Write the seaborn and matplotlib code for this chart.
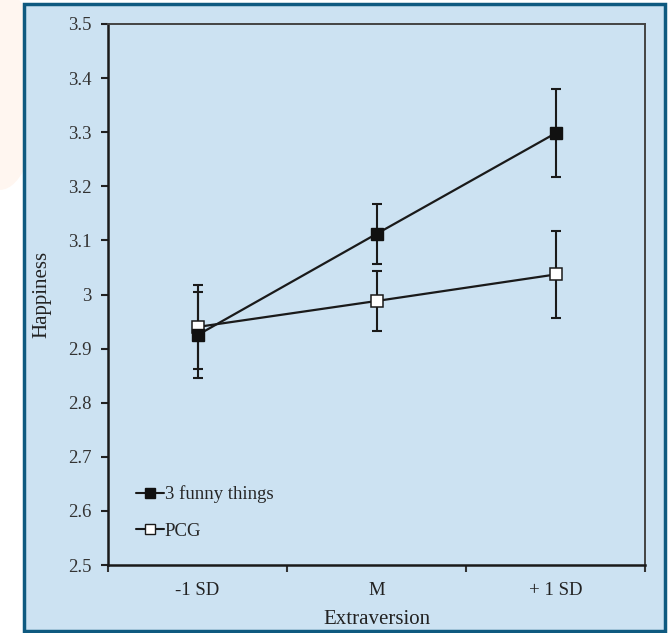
import matplotlib
matplotlib.use("Agg")
import matplotlib.pyplot as plt
import seaborn as sns
import pandas as pd
from matplotlib.patches import Rectangle, Ellipse
from matplotlib.lines import Line2D

categories = ["-1 SD", "M", "+ 1 SD"]
funny_mean = [2.925, 3.112, 3.298]
funny_err = [0.080, 0.055, 0.081]
pcg_mean = [2.940, 2.988, 3.037]
pcg_err = [0.078, 0.056, 0.080]
y_ticks = [2.5, 2.6, 2.7, 2.8, 2.9, 3.0, 3.1, 3.2, 3.3, 3.4, 3.5]
y_tick_labels = ["2.5", "2.6", "2.7", "2.8", "2.9", "3", "3.1", "3.2", "3.3", "3.4", "3.5"]

sns.set_style("white")
plt.rcParams["font.family"] = ["Liberation Serif", "DejaVu Serif"]

bg = "#cce2f2"
border = "#0f5a80"

fig = plt.figure(figsize=(6.69, 6.33), dpi=100)
fig.patch.set_facecolor("white")
fig.patches.append(Ellipse((0.0, 0.86), 0.12, 0.32, transform=fig.transFigure,
                           facecolor="#fff6f0", edgecolor="none", zorder=-6))
fig.patches.append(Rectangle((23.5 / 669, 2.5 / 633), 641 / 669, 627 / 633,
                             transform=fig.transFigure, facecolor=bg,
                             edgecolor=border, linewidth=2.5, zorder=-5))

ax = fig.add_axes([108 / 669, 68 / 633, 537 / 669, 541 / 633])
ax.set_zorder(3)
ax.set_facecolor("none")

pos = list(range(len(categories)))
df = pd.DataFrame({
    "x": pos * 2,
    "y": funny_mean + pcg_mean,
    "group": ["3 funny things"] * 3 + ["PCG"] * 3,
})

sns.lineplot(data=df, x="x", y="y", hue="group", style="group",
             palette={"3 funny things": "#1a1a1a", "PCG": "#1a1a1a"},
             markers=False, dashes=False, linewidth=1.6, legend=False, ax=ax, zorder=2)

ax.errorbar(pos, funny_mean, yerr=funny_err, fmt="none", ecolor="#1a1a1a",
            elinewidth=1.5, capsize=3.5, capthick=1.5, zorder=3)
ax.errorbar(pos, pcg_mean, yerr=pcg_err, fmt="none", ecolor="#1a1a1a",
            elinewidth=1.5, capsize=3.5, capthick=1.5, zorder=3)
ax.plot(pos, pcg_mean, linestyle="none", marker="s", markersize=8.3,
        markerfacecolor="white", markeredgecolor="#1a1a1a", markeredgewidth=1.1, zorder=4)
ax.plot(pos, funny_mean, linestyle="none", marker="s", markersize=8.5,
        markerfacecolor="#111111", markeredgecolor="#111111", zorder=5)

ax.set_xlim(-0.5, 2.5)
ax.set_ylim(2.5, 3.5)
ax.set_yticks(y_ticks)
ax.set_yticklabels(y_tick_labels)
ax.set_xticks([-0.5, 0.5, 1.5, 2.5])
ax.set_xticklabels([])
ax.set_xticks(pos, minor=True)
ax.set_xticklabels(categories, minor=True)
ax.tick_params(axis="x", which="minor", bottom=True, length=0, pad=12,
               labelsize=13.5, colors="#222222")
ax.tick_params(axis="x", which="major", bottom=True, direction="out", length=5,
               width=1.5, color="#333333")
ax.tick_params(axis="y", left=True, direction="out", length=5, width=1.5, color="#222222",
               labelsize=13.5, labelcolor="#333333", pad=7)

for side in ["left", "bottom"]:
    ax.spines[side].set_color("#1a1a1a")
    ax.spines[side].set_linewidth(1.8)
for side in ["top", "right"]:
    ax.spines[side].set_color("#444444")
    ax.spines[side].set_linewidth(1.4)

ax.set_xlabel("Extraversion", fontsize=15, color="#222222")
ax.set_ylabel("Happiness", fontsize=15, color="#222222")
ax.xaxis.set_label_coords(0.5, -0.083)
ax.yaxis.set_label_coords(-0.106, 0.5)

handles = [
    Line2D([], [], color="#1a1a1a", linewidth=1.5, marker="s", markersize=7.5,
           markerfacecolor="#111111", markeredgecolor="#111111"),
    Line2D([], [], color="#1a1a1a", linewidth=1.5, marker="s", markersize=7.5,
           markerfacecolor="white", markeredgecolor="#1a1a1a"),
]
ax.legend(handles, ["3 funny things", "PCG"], loc="lower left",
          bbox_to_anchor=(0.02, 0.015), frameon=False, handlelength=1.5,
          handletextpad=0.05, labelspacing=1.05, fontsize=13.5)

fig.savefig("out.png", dpi=100, facecolor=fig.get_facecolor())
